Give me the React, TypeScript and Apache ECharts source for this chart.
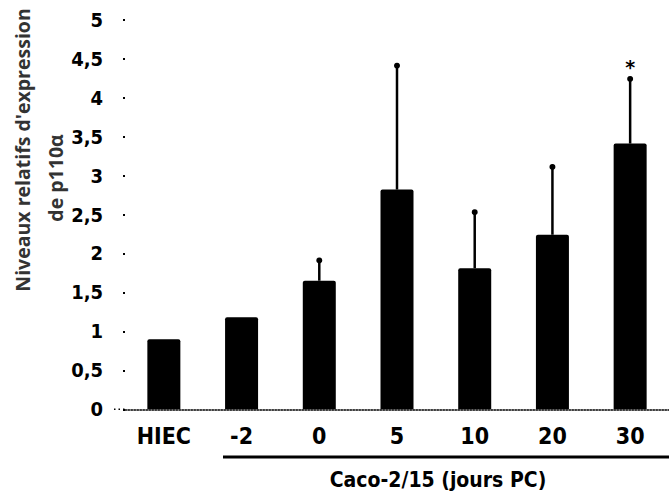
import React, { useEffect, useRef } from "react";
import * as echarts from "echarts";

const categories = ["HIEC", "-2", "0", "5", "10", "20", "30"];
const means = [0.9, 1.18, 1.65, 2.82, 1.81, 2.24, 3.41];
const errorTops = [0.93, 1.18, 1.91, 4.41, 2.53, 3.11, 4.24];
const significance = ["", "", "", "", "", "", "*"];
const yTicks = [0, 0.5, 1, 1.5, 2, 2.5, 3, 3.5, 4, 4.5, 5];
const titleLine1 = "Niveaux relatifs d'expression";
const titleLine2 = "de p110α";
const groupLabel = "Caco-2/15 (jours PC)";

const NARROW = "'DejaVu Sans Condensed', 'DejaVu Sans', sans-serif";

export default function App() {
  const ref = useRef<HTMLDivElement>(null);
  useEffect(() => {
    if (!ref.current) return;
    const chart = echarts.init(ref.current, undefined, { renderer: "svg" });
    const errData = categories.map((c, i) => [i, means[i], errorTops[i], significance[i]]);
    chart.setOption({
      animation: false,
      backgroundColor: "#ffffff",
      grid: { left: 125, top: 19.7, height: 389.6, width: 568.4 },
      xAxis: {
        type: "category",
        data: categories,
        axisLine: { show: true, lineStyle: { color: "#000", type: "dotted", width: 1.5 } },
        axisTick: { show: false },
        axisLabel: {
          color: "#000",
          fontFamily: NARROW,
          fontWeight: "bold",
          fontSize: 23,
          margin: 15,
        },
      },
      yAxis: {
        type: "value",
        min: 0,
        max: 5,
        interval: 0.5,
        axisLine: { show: false },
        splitLine: { show: false },
        axisTick: { show: true, length: 2, lineStyle: { color: "#000", width: 2 } },
        axisLabel: {
          color: "#000",
          fontFamily: NARROW,
          fontWeight: "bold",
          fontSize: 20,
          margin: 22,
          formatter: (v: number) => {
            const t = yTicks.find((x) => Math.abs(x - v) < 1e-6);
            return t === undefined ? "" : String(t).replace(".", ",");
          },
        },
      },
      series: [
        {
          type: "bar",
          data: means,
          barWidth: 33,
          itemStyle: { color: "#000", borderRadius: [2, 2, 0, 0] },
        },
        {
          type: "custom",
          data: errData,
          z: 5,
          renderItem: (params: any, api: any) => {
            const i = api.value(0);
            const base = api.coord([i, api.value(1)]);
            const top = api.coord([i, api.value(2)]);
            const sig = significance[i];
            const children: any[] = [];
            if (api.value(2) > api.value(1) + 0.05) {
              children.push({
                type: "line",
                shape: { x1: base[0], y1: base[1], x2: top[0], y2: top[1] },
                style: { stroke: "#000", lineWidth: 2.5 },
              });
              children.push({
                type: "circle",
                shape: { cx: top[0], cy: top[1], r: 3 },
                style: { fill: "#000" },
              });
            }
            if (sig) {
              children.push({
                type: "text",
                x: top[0],
                y: top[1] - 12,
                style: {
                  text: sig,
                  fill: "#000",
                  font: "bold 19px 'DejaVu Sans'",
                  textAlign: "center",
                  textVerticalAlign: "middle",
                },
              });
            }
            return { type: "group", children };
          },
        },
      ],
      graphic: [
        {
          type: "line",
          shape: { x1: 114, y1: 409.3, x2: 125, y2: 409.3 },
          style: { stroke: "#000", lineWidth: 1.5, lineDash: [1.5, 3] },
        },
        {
          type: "text",
          x: 22,
          y: 150,
          rotation: Math.PI / 2,
          style: {
            text: titleLine1,
            fill: "#333",
            font: "bold 19.5px 'Open Sans'",
            textAlign: "center",
            textVerticalAlign: "middle",
          },
        },
        {
          type: "text",
          x: 55,
          y: 178,
          rotation: Math.PI / 2,
          style: {
            text: titleLine2,
            fill: "#333",
            font: "bold 19.5px 'Open Sans'",
            textAlign: "center",
            textVerticalAlign: "middle",
          },
        },
        {
          type: "line",
          shape: { x1: 223, y1: 457, x2: 669, y2: 457 },
          style: { stroke: "#000", lineWidth: 3 },
        },
        {
          type: "text",
          x: 438,
          y: 480,
          style: {
            text: groupLabel,
            fill: "#000",
            font: `bold 21px ${NARROW}`,
            textAlign: "center",
            textVerticalAlign: "middle",
          },
        },
      ],
    });
    return () => chart.dispose();
  }, []);
  return (
    <div
      ref={ref}
      style={{ position: "fixed", left: 0, top: 0, width: 669, height: 491, background: "#fff" }}
    />
  );
}
